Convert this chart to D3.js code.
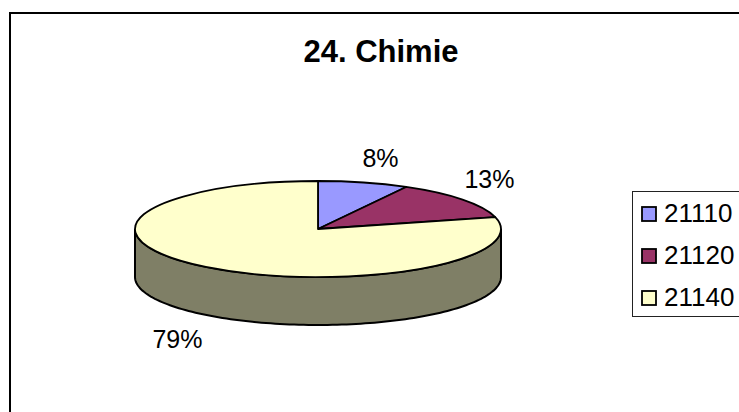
<!DOCTYPE html>
<html>
<head>
<meta charset="utf-8">
<script src="https://cdn.jsdelivr.net/npm/d3@7"></script>
<style>
html,body{margin:0;padding:0;background:#fff;overflow:hidden}
text{font-family:"Liberation Sans",Arial,sans-serif;fill:#000}
</style>
</head>
<body>
<svg id="c" width="739" height="412"></svg>
<script>
const titleText = "24. Chimie";
const categories = ["21110", "21120", "21140"];
const values = [8, 13, 79];
const labels = ["8%", "13%", "79%"];
const colors = ["#9999ff", "#993366", "#ffffcc"];
const sideColor = "#7f7f66";

const svg = d3.select("#c");
const W = 739, H = 412;
const cx = 318, cy = 229, rx = 183, ry = 48, depth = 48;

// chart frame: left and top edges only are visible in the picture
svg.append("path").attr("d", `M10,${H}V13H${W}`)
  .attr("fill", "none").attr("stroke", "#000").attr("stroke-width", 2);

svg.append("text").attr("x", 381).attr("y", 62)
  .attr("text-anchor", "middle").attr("font-size", 31).attr("font-weight", "bold")
  .text(titleText);

const pie = d3.pie().sort(null).value(d => d);
const arcs = pie(values);
const arc = d3.arc().innerRadius(0).outerRadius(rx);

// side wall of the disc: lower half of the ellipse, extruded downward
const angleScale = d3.scaleLinear().domain([0, 1]).range([Math.PI / 2, 3 * Math.PI / 2]);
const ts = d3.range(0, 1.0001, 1 / 120);
const wall = d3.area()
  .x(t => cx + rx * Math.sin(angleScale(t)))
  .y0(t => cy - ry * Math.cos(angleScale(t)))
  .y1(t => cy + depth - ry * Math.cos(angleScale(t)));
svg.append("path").attr("d", wall(ts))
  .attr("fill", sideColor).attr("stroke", "#000").attr("stroke-width", 2);

// top face
const face = svg.append("g").attr("transform", `translate(${cx},${cy}) scale(1,${ry / rx})`);
face.selectAll("path").data(arcs).join("path")
  .attr("d", arc)
  .attr("fill", (d, i) => colors[i])
  .attr("stroke", "#000").attr("stroke-width", 1.8)
  .attr("vector-effect", "non-scaling-stroke")
  .attr("stroke-linejoin", "round");

// data labels
const labelPos = [[380.5, 167], [489.5, 188], [177.5, 348]];
svg.append("g").selectAll("text").data(labels).join("text")
  .attr("x", (d, i) => labelPos[i][0])
  .attr("y", (d, i) => labelPos[i][1])
  .attr("text-anchor", "middle").attr("font-size", 25)
  .text(d => d);

// legend
const legendY = d3.scalePoint().domain(categories).range([214, 298]);
svg.append("rect").attr("x", 632.5).attr("y", 191.5).attr("width", 120).attr("height", 125)
  .attr("fill", "#fff").attr("stroke", "#222").attr("stroke-width", 1);
const lg = svg.append("g").selectAll("g").data(categories).join("g")
  .attr("transform", d => `translate(0,${legendY(d)})`);
lg.append("rect").attr("x", 642).attr("y", -7).attr("width", 14).attr("height", 14)
  .attr("fill", (d, i) => colors[i]).attr("stroke", "#000").attr("stroke-width", 1.8);
lg.append("text").attr("x", 664).attr("y", 7.5).attr("font-size", 26).text(d => d);
</script>
</body>
</html>
